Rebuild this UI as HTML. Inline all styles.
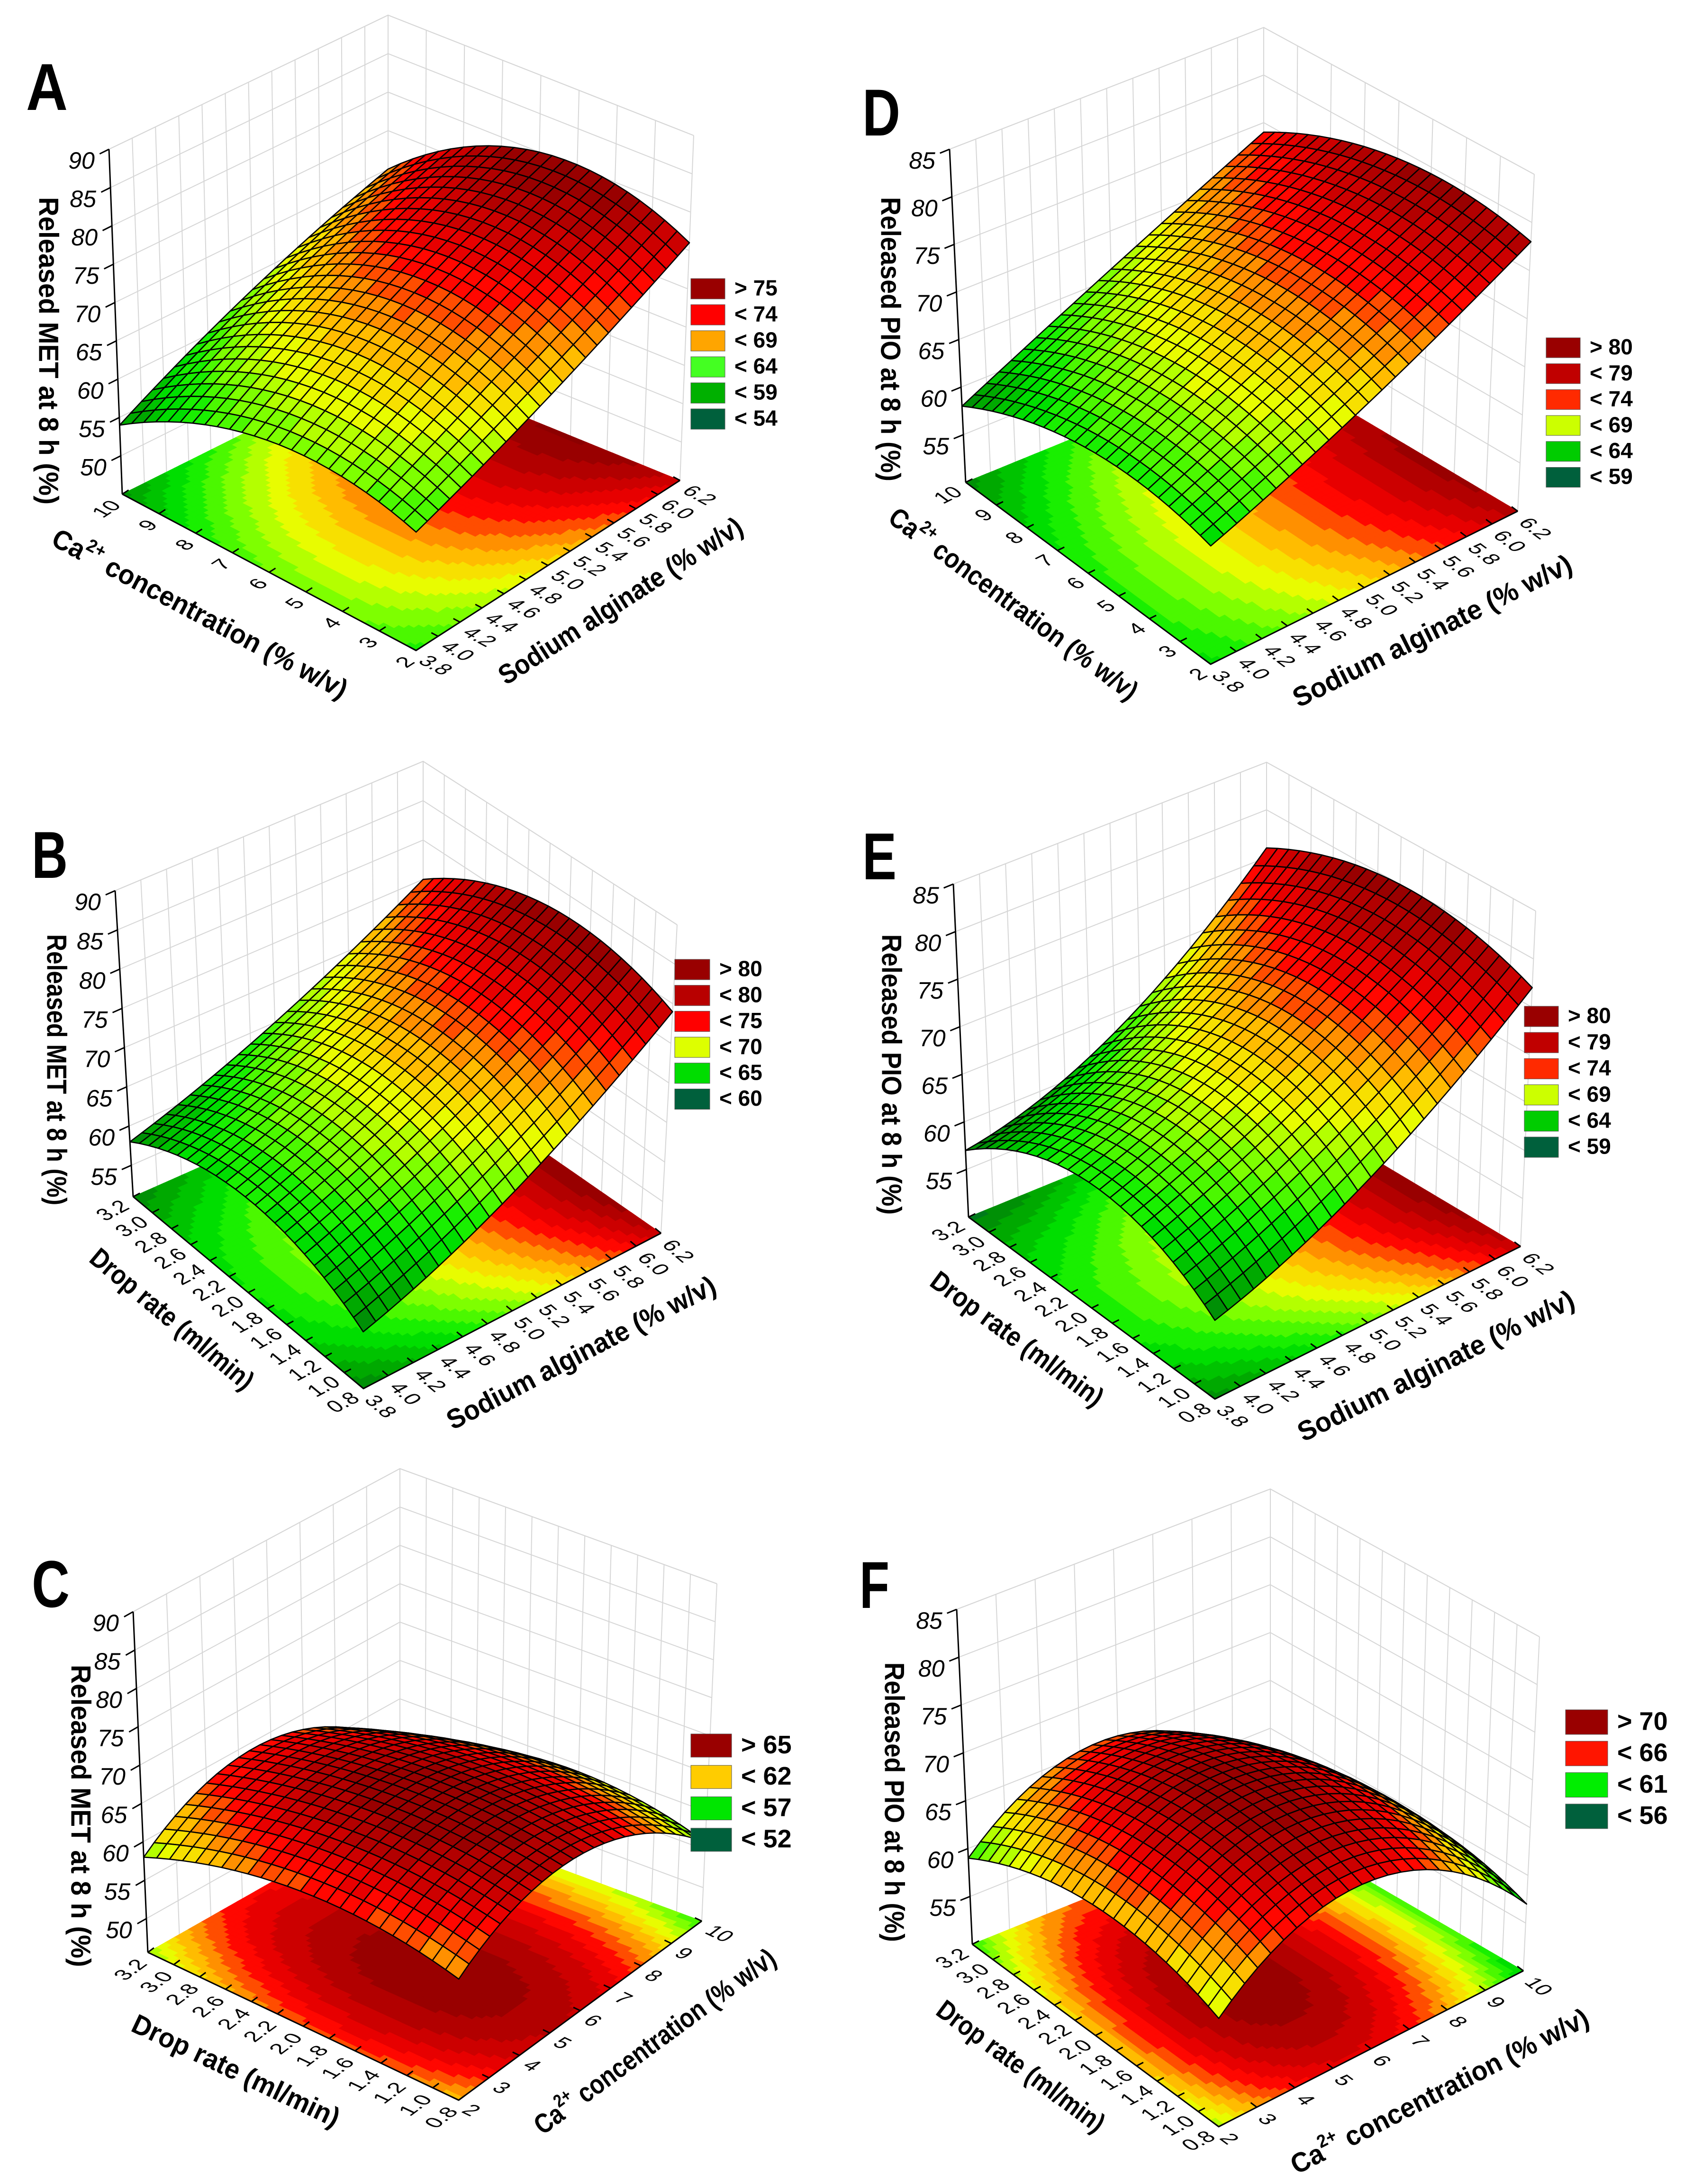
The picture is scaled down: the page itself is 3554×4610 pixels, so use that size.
<!DOCTYPE html>
<html>
<head>
<meta charset="utf-8">
<style>
html,body{margin:0;padding:0;background:#fff;}
svg{display:block;}
text{font-family:"Liberation Sans",sans-serif;}
</style>
</head>
<body>
<svg id="fig" width="3554" height="4610" viewBox="0 0 3554 4610">
<rect x="0" y="0" width="3554" height="4610" fill="#ffffff"/>
</svg>
<script>
// ---- data ----
// rows: left-axis value low -> mid -> high ; cols: right-axis value low -> mid -> high
const surfA = [[60,67,76],[62,72,80],[54,63,70]];
const surfD = [[62,69,78],[63,71,79],[58,66,74]];
const surfB = [[58,66,79],[63,71,82],[58,65,75]];
const surfE = [[58,65,77],[63,70,80],[57,63,76]];
const surfC = [[61,66,56],[63,67.5,59],[58,64,54]];
const surfF = [[61,67.5,57],[63.5,70,59.5],[59,65.5,55]];

const caTicks = ['2','3','4','5','6','7','8','9','10'];
const saTicks = ['3.8','4.0','4.2','4.4','4.6','4.8','5.0','5.2','5.4','5.6','5.8','6.0','6.2'];
const dropTicks = ['0.8','1.0','1.2','1.4','1.6','1.8','2.0','2.2','2.4','2.6','2.8','3.0','3.2'];
const zTicksMET = [50,55,60,65,70,75,80,85,90];
const zTicksMETb = [55,60,65,70,75,80,85,90];
const zTicksPIO = [55,60,65,70,75,80,85];

const legendA = ['> 75','< 74','< 69','< 64','< 59','< 54'];
const legendD = ['> 80','< 79','< 74','< 69','< 64','< 59'];
const legendB = ['> 80','< 80','< 75','< 70','< 65','< 60'];
const legendE = ['> 80','< 79','< 74','< 69','< 64','< 59'];
const legendC = ['> 65','< 62','< 57','< 52'];
const legendF = ['> 70','< 66','< 61','< 56'];

const svg = document.getElementById('fig');
const NS = svg.namespaceURI;
function mk(tag, attrs, parent){
  const e = document.createElementNS(NS, tag);
  for (const k in attrs) e.setAttribute(k, attrs[k]);
  (parent||svg).appendChild(e);
  return e;
}
const sixCols = ['#990000','#c00000','#ff2a00','#ccff00','#00cc00','#00603c'];
const sixColsA = ['#990000','#ff0000','#ffa500','#44ff22','#00b000','#00603c'];
const sixColsB = ['#990000','#b80000','#ff0000','#ddff00','#00dd00','#00603c'];
const fourColsC = ['#990000','#ffcc00','#00e600','#00603c'];
const fourColsF = ['#990000','#ff1500','#00ee00','#00603c'];

const panels = [
 {id:'a', letter:'A', lx:55, ly:232, llen:88, grid:surfA, lo:50, hi:80, zmin:45, zmax:90, zt:zTicksMET,
  F:[878,1373], R:[1435,1014], L:[258,1043], B:[819,763], TL:[230,315], TR:[1464,286], TB:[819,32],
  leftTicks:caTicks, rightTicks:saTicks, leftTitle:'ca', rightTitle:'Sodium alginate (% w/v)', ltl:697, rtl:600,
  ztitle:'Released MET at 8 h (%)', ztx:98, zty0:416, zty1:1065,
  leg:legendA, legc:sixColsA, legx:1458, legy:588, legw:72, legh:43, legs:55, legfs:46},
 {id:'d', letter:'D', lx:1820, ly:286, llen:80, grid:surfD, lo:55, hi:80, zmin:50, zmax:85, zt:zTicksPIO,
  F:[2555,1402], R:[3203,1079], L:[2038,1018], B:[2667,761], TL:[2004,315], TR:[3238,368], TB:[2667,58],
  leftTicks:caTicks, rightTicks:saTicks, leftTitle:'ca', rightTitle:'Sodium alginate (% w/v)', ltl:638, rtl:650,
  ztitle:'Released PIO at 8 h (%)', ztx:1875, zty0:416, zty1:1016,
  leg:legendD, legc:sixCols, legx:3263, legy:713, legw:72, legh:42, legs:54.7, legfs:46},
 {id:'b', letter:'B', lx:67, ly:1853, llen:76, grid:surfB, lo:55, hi:82, zmin:51, zmax:90, zt:zTicksMETb,
  F:[767,2931], R:[1395,2603], L:[281,2526], B:[893,2255], TL:[243,1880], TR:[1429,1952], TB:[893,1607],
  leftTicks:dropTicks, rightTicks:saTicks, leftTitle:'Drop rate (ml/min)', rightTitle:'Sodium alginate (% w/v)', ltl:430, rtl:632,
  ztitle:'Released MET at 8 h (%)', ztx:115, zty0:1972, zty1:2544,
  leg:legendB, legc:sixColsB, legx:1424, legy:2025, legw:74, legh:43, legs:54.7, legfs:46},
 {id:'e', letter:'E', lx:1820, ly:1856, llen:72, grid:surfE, lo:55, hi:80, zmin:50, zmax:85, zt:zTicksPIO,
  F:[2564,2953], R:[3209,2631], L:[2044,2569], B:[2673,2312], TL:[2012,1866], TR:[3241,1923], TB:[2673,1609],
  leftTicks:dropTicks, rightTicks:saTicks, leftTitle:'Drop rate (ml/min)', rightTitle:'Sodium alginate (% w/v)', ltl:437, rtl:644,
  ztitle:'Released PIO at 8 h (%)', ztx:1877, zty0:1972, zty1:2564,
  leg:legendE, legc:sixCols, legx:3217, legy:2124, legw:72, legh:43, legs:55.2, legfs:46},
 {id:'c', letter:'C', lx:67, ly:3392, llen:80, grid:surfC, lo:50, hi:68, zmin:45.6, zmax:90, zt:zTicksMET,
  F:[968,4433], R:[1481,4055], L:[312,4121], B:[844,3819], TL:[281,3402], TR:[1513,3343], TB:[844,3100],
  leftTicks:dropTicks, rightTicks:caTicks, leftTitle:'Drop rate (ml/min)', rightTitle:'ca', ltl:478, rtl:617,
  ztitle:'Released MET  at 8 h (%)', ztx:166, zty0:3514, zty1:4152,
  leg:legendC, legc:fourColsC, legx:1458, legy:3660, legw:86, legh:49, legs:66.3, legfs:54},
 {id:'f', letter:'F', lx:1814, ly:3394, llen:63, grid:surfF, lo:53, hi:70.5, zmin:50, zmax:85, zt:zTicksPIO,
  F:[2572,4489], R:[3215,4160], L:[2052,4104], B:[2681,3850], TL:[2019,3397], TR:[3249,3455], TB:[2681,3143],
  leftTicks:dropTicks, rightTicks:caTicks, leftTitle:'Drop rate (ml/min)', rightTitle:'ca', ltl:425, rtl:698,
  ztitle:'Released PIO at 8 h (%)', ztx:1883, zty0:3509, zty1:4099,
  leg:legendF, legc:fourColsF, legx:3304, legy:3609, legw:89, legh:52, legs:66.3, legfs:54}
];

const stops = [[0,[0,90,60]],[0.14,[0,150,0]],[0.3,[0,235,0]],[0.42,[120,255,0]],[0.52,[230,255,0]],
  [0.6,[255,210,0]],[0.68,[255,140,0]],[0.78,[255,0,0]],[0.9,[190,0,0]],[1,[140,0,0]]];
function cmap(t){
  t = Math.max(0, Math.min(1, t));
  for (let i=1;i<stops.length;i++){
    if (t <= stops[i][0]){
      const a=stops[i-1], b=stops[i], f=(t-a[0])/(b[0]-a[0]);
      const c=[0,1,2].map(k=>Math.round(a[1][k]+(b[1][k]-a[1][k])*f));
      return 'rgb('+c.join(',')+')';
    }
  }
  return 'rgb(140,0,0)';
}
const NB = 20;
function colorFor(p, z){
  const band = Math.floor((z-p.lo)/(p.hi-p.lo)*NB);
  return cmap((band+0.5)/NB);
}
function lag(t){ return [2*(t-0.5)*(t-1), -4*t*(t-1), 2*t*(t-0.5)]; }
function zval(grid,u,v){
  const lu=lag(u), lv=lag(v); let s=0;
  for (let i=0;i<3;i++) for (let j=0;j<3;j++) s += lv[i]*lu[j]*grid[i][j];
  return s;
}
function bil(A,Bq,C,D,u,v){
  return [A[0]*(1-u)*(1-v)+Bq[0]*u*(1-v)+C[0]*(1-u)*v+D[0]*u*v,
          A[1]*(1-u)*(1-v)+Bq[1]*u*(1-v)+C[1]*(1-u)*v+D[1]*u*v];
}
function P(p,u,v,w){
  const f = bil(p.F,p.R,p.L,p.B,u,v), t = bil(p.TF,p.TR,p.TL,p.TB,u,v);
  return [f[0]+(t[0]-f[0])*w, f[1]+(t[1]-f[1])*w];
}
function W(p,z){ return (z-p.zmin)/(p.zmax-p.zmin); }
function pts(arr){ return arr.map(q=>q[0].toFixed(1)+','+q[1].toFixed(1)).join(' '); }
function f2(n){ return n.toFixed(4); }

panels.forEach(p=>{
  p.TF = [p.F[0]+((p.TL[0]-p.L[0])+(p.TR[0]-p.R[0]))/2, p.F[1]+((p.TL[1]-p.L[1])+(p.TR[1]-p.R[1]))/2*1.03];
  const g = mk('g',{});
  
  

  const wall = mk('g',{stroke:'#d6d6d6','stroke-width':2,fill:'none'},g);
  
  
  const nR = p.rightTicks.length, nL = p.leftTicks.length;
  for (let k=0;k<nR;k++){
    const u=k/(nR-1);
    const ln = mk('line',{x1:P(p,u,1,0)[0],y1:P(p,u,1,0)[1],x2:P(p,u,1,1)[0],y2:P(p,u,1,1)[1]},wall);
    
    
  }
  for (let k=0;k<nL;k++){
    const v=k/(nL-1);
    const ln = mk('line',{x1:P(p,1,v,0)[0],y1:P(p,1,v,0)[1],x2:P(p,1,v,1)[0],y2:P(p,1,v,1)[1]},wall);
    
    
  }
  p.zt.concat([p.zmax]).forEach(z=>{
    const w=W(p,z);
    const pl = mk('polyline',{points:pts([P(p,0,1,w),P(p,1,1,w),P(p,1,0,w)])},wall);
    
    
  });

  const fl = mk('g',{},g);
  
  
  const NF=56;
  for (let i=0;i<NF;i++) for (let j=0;j<NF;j++){
    const u0=i/NF,u1=(i+1)/NF,v0=j/NF,v1=(j+1)/NF;
    const z=zval(p.grid,(u0+u1)/2,(v0+v1)/2);
    const c=colorFor(p,z);
    const cell = mk('polygon',{points:pts([P(p,u0,v0,0),P(p,u1,v0,0),P(p,u1,v1,0),P(p,u0,v1,0)]),fill:c,stroke:c,'stroke-width':1.2},fl);
    
    
  }

  const za = mk('g',{},g);
  
  
  const a0=P(p,0,1,0), a1=P(p,0,1,1);
  const axl = mk('line',{x1:a0[0],y1:a0[1],x2:a1[0],y2:a1[1],stroke:'#000','stroke-width':3},za);
  
  
  const dx=p.L[0]-p.B[0], dy=p.L[1]-p.B[1], dn=Math.hypot(dx,dy);
  p.zt.forEach(z=>{
    const q=P(p,0,1,W(p,z));
    const tk = mk('line',{x1:q[0],y1:q[1],x2:q[0]+dx/dn*22,y2:q[1]+dy/dn*22,stroke:'#000','stroke-width':3},za);
    
    
    const tl = mk('text',{x:q[0]-58,y:q[1]+28,'font-size':50,'font-style':'italic','text-anchor':'middle','dominant-baseline':'middle',fill:'#000'},za);
    tl.textContent=String(z);
    
    
  });
  const zcy=(p.zty0+p.zty1)/2;
  const zt = mk('text',{x:p.ztx,y:zcy,'font-size':58,'font-weight':'bold','text-anchor':'middle','dominant-baseline':'middle',
    transform:'rotate(90 '+p.ztx+' '+zcy+')',textLength:(p.zty1-p.zty0),lengthAdjust:'spacingAndGlyphs'},za);
  zt.textContent=p.ztitle;
  
  

  const ldx=p.L[0]-p.F[0], ldy=p.L[1]-p.F[1], ll=Math.hypot(ldx,ldy);
  const rdx=p.R[0]-p.F[0], rdy=p.R[1]-p.F[1], rl=Math.hypot(rdx,rdy);
  const ldir=[ldx/ll,ldy/ll], rdir=[rdx/rl,rdy/rl];
  const lnorm=[ldir[1],-ldir[0]];
  const rnorm=[-rdir[1],rdir[0]];
  if (lnorm[1]<0){lnorm[0]*=-1;lnorm[1]*=-1;}
  if (rnorm[1]<0){rnorm[0]*=-1;rnorm[1]*=-1;}
  const tickAng = Math.atan2(-ldy,-ldx)*180/Math.PI;

  const fe = mk('g',{stroke:'#000','stroke-width':3,fill:'none'},g);
  
  
  const edge = mk('polyline',{points:pts([p.L,p.F,p.R])},fe);
  
  

  const lax = mk('g',{},g);
  
  
  p.leftTicks.forEach((t,k)=>{
    const q=P(p,0,k/(p.leftTicks.length-1),0);
    const tm = mk('line',{x1:q[0],y1:q[1],x2:q[0]+rdir[0]*16,y2:q[1]+rdir[1]*16},fe);
    
    
    const x=q[0]+lnorm[0]*22, y=q[1]+lnorm[1]*22;
    const tx = mk('text',{x:0,y:0,'font-size':44,'text-anchor':'end','dominant-baseline':'middle',
      transform:'matrix('+f2(rdir[0])+' '+f2(rdir[1])+' '+f2(-ldir[0])+' '+f2(-ldir[1])+' '+x.toFixed(1)+' '+y.toFixed(1)+')'},lax);
    tx.textContent=t;
    
    
  });
  const rax = mk('g',{},g);
  
  
  p.rightTicks.forEach((t,k)=>{
    const q=P(p,k/(p.rightTicks.length-1),0,0);
    const tm = mk('line',{x1:q[0],y1:q[1],x2:q[0]+ldir[0]*16,y2:q[1]+ldir[1]*16},fe);
    
    
    const x=q[0]+rnorm[0]*22, y=q[1]+rnorm[1]*22;
    const tx = mk('text',{x:0,y:0,'font-size':44,'text-anchor':'start','dominant-baseline':'middle',
      transform:'matrix('+f2(-ldir[0])+' '+f2(-ldir[1])+' '+f2(-rdir[0])+' '+f2(-rdir[1])+' '+x.toFixed(1)+' '+y.toFixed(1)+')'},rax);
    tx.textContent=t;
    
    
  });
  function title(par, txt, mid, norm, dir, ang, len){
    const cx=mid[0]+norm[0]*150+dir[0]*88, cy=mid[1]+norm[1]*150+dir[1]*88;
    const t = mk('text',{x:cx,y:cy,'font-size':58,'font-weight':'bold','text-anchor':'middle','dominant-baseline':'middle',
      transform:'rotate('+ang.toFixed(1)+' '+cx.toFixed(1)+' '+cy.toFixed(1)+')',textLength:len,lengthAdjust:'spacingAndGlyphs'},par);
    if (txt==='ca'){
      t.appendChild(document.createTextNode('Ca'));
      const s=document.createElementNS(NS,'tspan');
      s.setAttribute('baseline-shift','super'); s.setAttribute('font-size','38');
      s.textContent='2+'; t.appendChild(s);
      t.appendChild(document.createTextNode(' concentration (% w/v)'));
    } else t.textContent=txt;
    return t;
  }
  const lmid=[(p.F[0]+p.L[0])/2,(p.F[1]+p.L[1])/2], rmid=[(p.F[0]+p.R[0])/2,(p.F[1]+p.R[1])/2];
  const lt = title(lax,p.leftTitle,lmid,lnorm,ldir,tickAng,p.ltl);
  
  
  const rt = title(rax,p.rightTitle,rmid,rnorm,rdir,Math.atan2(rdy,rdx)*180/Math.PI,p.rtl);
  
  

  const sf = mk('g',{stroke:'#000','stroke-width':2.6,'stroke-linejoin':'round'},g);
  
  
  const NS2=24, cells=[];
  for (let i=0;i<NS2;i++) for (let j=0;j<NS2;j++) cells.push([i,j]);
  cells.sort((a,b)=>(b[0]+b[1])-(a[0]+a[1]));
  cells.forEach(([i,j])=>{
    const u0=i/NS2,u1=(i+1)/NS2,v0=j/NS2,v1=(j+1)/NS2;
    const q=[[u0,v0],[u1,v0],[u1,v1],[u0,v1]].map(([u,v])=>P(p,u,v,W(p,zval(p.grid,u,v))));
    const z=zval(p.grid,(u0+u1)/2,(v0+v1)/2);
    const cell = mk('polygon',{points:pts(q),fill:colorFor(p,z)},sf);
    
    
  });

  const lg = mk('g',{},g);
  
  
  p.leg.forEach((t,k)=>{
    const y=p.legy+k*p.legs;
    const sw = mk('rect',{x:p.legx,y:y,width:p.legw,height:p.legh,fill:p.legc[k],stroke:'#555','stroke-width':1},lg);
    
    
    const tx = mk('text',{x:p.legx+p.legw+20,y:y+p.legh/2+2,'font-size':p.legfs,'font-weight':'bold','dominant-baseline':'middle'},lg);
    tx.textContent=t;
    
    
  });

  const pl = mk('text',{x:p.lx,y:p.ly,'font-size':140,'font-weight':'bold',textLength:p.llen,lengthAdjust:'spacingAndGlyphs'},g);
  pl.textContent=p.letter;
  
  
});
</script>
</body>
</html>
